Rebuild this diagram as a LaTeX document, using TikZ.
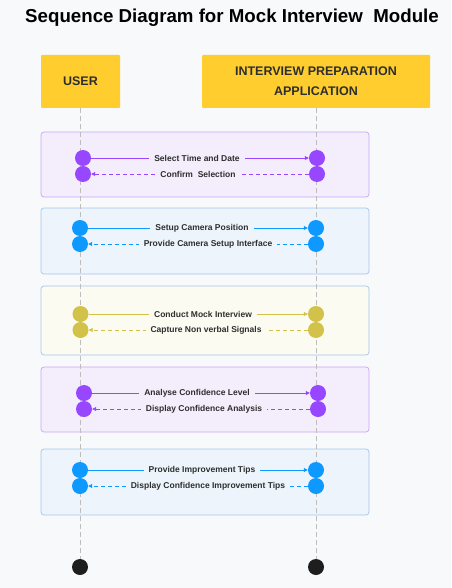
\documentclass[tikz,border=0pt]{standalone}
\usepackage{fontspec}
\setmainfont{Liberation Sans}
\usetikzlibrary{arrows.meta}
\definecolor{bgc}{HTML}{F8F9FA}
\definecolor{hdr}{HTML}{FFCE2E}
\definecolor{txt}{HTML}{2E2E2E}
\definecolor{life}{HTML}{BDBDBD}
\definecolor{purp}{HTML}{9747FF}
\definecolor{purpfill}{HTML}{F3EDFC}
\definecolor{purpline}{HTML}{C9A5F7}
\definecolor{blu}{HTML}{0D99FF}
\definecolor{blufill}{HTML}{EDF4FC}
\definecolor{bluline}{HTML}{A3C6EC}
\definecolor{oli}{HTML}{D2C24A}
\definecolor{olifill}{HTML}{FBFBF2}
\definecolor{endc}{HTML}{1E1E1E}
\tikzset{
  grp/.style={draw, line width=0.7pt, rounded corners=3pt, minimum width=328pt, inner sep=0pt},
  hdrbox/.style={fill=hdr, rounded corners=1pt, inner sep=0pt, align=center, text=txt,
    font=\bfseries\fontsize{12.5}{20}\selectfont},
  dot/.style={circle, inner sep=0pt, minimum size=16pt},
  lbl/.style={font=\bfseries\fontsize{8.5}{9}\selectfont, text=txt, inner xsep=5pt, inner ysep=1pt},
  msg/.style={line width=0.8pt, -{Triangle[length=4pt,width=4pt]}},
  rep/.style={msg, dash pattern=on 4pt off 3pt},
  lifeline/.style={draw=life, line width=0.8pt, dash pattern=on 5pt off 3pt}
}
\begin{document}
\begin{tikzpicture}[x=1pt,y=-1pt]
\fill[bgc] (0,0) rectangle (451,588);
\useasboundingbox (0,0) rectangle (451,588);
\node[font=\bfseries\fontsize{18.7}{22}\selectfont, text=black] (title) at (232,18) {Sequence Diagram for Mock Interview\ \ Module};
% groups
\node[grp, fill=purpfill, draw=purpline, minimum height=65pt] (g1) at (205,164.5) {};
\node[grp, fill=blufill, draw=bluline, minimum height=66pt] (g2) at (205,241) {};
\node[grp, fill=olifill, draw=bluline, minimum height=69pt] (g3) at (205,320.5) {};
\node[grp, fill=purpfill, draw=purpline, minimum height=65pt] (g4) at (205,399.5) {};
\node[grp, fill=blufill, draw=bluline, minimum height=66pt] (g5) at (205,482) {};
% headers
\node[hdrbox, minimum width=79pt, minimum height=53pt] (user) at (80.5,81.5) {USER};
\node[hdrbox, minimum width=228pt, minimum height=53pt] (app) at (316,81.5) {INTERVIEW PREPARATION\\APPLICATION};
% end dots
\node[dot, fill=endc] (uend) at (80,567) {};
\node[dot, fill=endc] (aend) at (316,567) {};
\draw[lifeline] (user.south -| uend) -- (uend.north);
\draw[lifeline] (app.south -| aend) -- (aend.north);
% group 1
\node[dot, fill=purp] (u1a) at (83,158) {};
\node[dot, fill=purp] (u1b) at (83,174) {};
\node[dot, fill=purp] (a1a) at (317,158) {};
\node[dot, fill=purp] (a1b) at (317,174) {};
\draw[msg, purp] (u1a) -- (a1a);
\draw[rep, purp] (a1b) -- (u1b);
\node[lbl, fill=purpfill] (l1a) at (197,158) {Select Time and Date};
\node[lbl, fill=purpfill] (l1b) at (198,174) {Confirm\ \ Selection};
% group 2
\node[dot, fill=blu] (u2a) at (80,228) {};
\node[dot, fill=blu] (u2b) at (80,244) {};
\node[dot, fill=blu] (a2a) at (316,228) {};
\node[dot, fill=blu] (a2b) at (316,244) {};
\draw[msg, blu] (u2a) -- (a2a);
\draw[rep, blu] (a2b) -- (u2b);
\node[lbl, fill=blufill] (l2a) at (202,228) {Setup Camera Position};
\node[lbl, fill=blufill] (l2b) at (208,244) {Provide Camera Setup Interface};
% group 3
\node[dot, fill=oli] (u3a) at (80.5,314) {};
\node[dot, fill=oli] (u3b) at (80.5,330) {};
\node[dot, fill=oli] (a3a) at (316,314) {};
\node[dot, fill=oli] (a3b) at (316,330) {};
\draw[msg, oli] (u3a) -- (a3a);
\draw[rep, oli] (a3b) -- (u3b);
\node[lbl, fill=olifill] (l3a) at (203,314) {Conduct Mock Interview};
\node[lbl, fill=olifill] (l3b) at (206,330) {Capture Non verbal Signals};
% group 4
\node[dot, fill=purp] (u4a) at (84,393) {};
\node[dot, fill=purp] (u4b) at (84,409) {};
\node[dot, fill=purp] (a4a) at (318,393) {};
\node[dot, fill=purp] (a4b) at (318,409) {};
\draw[msg, purp] (u4a) -- (a4a);
\draw[rep, purp] (a4b) -- (u4b);
\node[lbl, fill=purpfill] (l4a) at (197,393) {Analyse Confidence Level};
\node[lbl, fill=purpfill] (l4b) at (204,409) {Display Confidence Analysis};
% group 5
\node[dot, fill=blu] (u5a) at (80,470) {};
\node[dot, fill=blu] (u5b) at (80,486) {};
\node[dot, fill=blu] (a5a) at (316,470) {};
\node[dot, fill=blu] (a5b) at (316,486) {};
\draw[msg, blu] (u5a) -- (a5a);
\draw[rep, blu] (a5b) -- (u5b);
\node[lbl, fill=blufill] (l5a) at (202,470) {Provide Improvement Tips};
\node[lbl, fill=blufill] (l5b) at (208,486) {Display Confidence Improvement Tips};
\end{tikzpicture}
\end{document}
